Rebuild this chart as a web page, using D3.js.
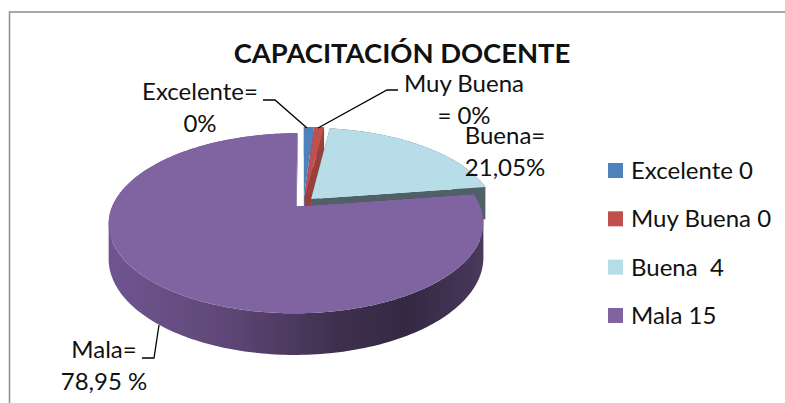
<!DOCTYPE html>
<html>
<head>
<meta charset="utf-8">
<script src="https://cdnjs.cloudflare.com/ajax/libs/d3/7.8.5/d3.min.js"></script>
<style>
  html, body { margin: 0; padding: 0; background: #fff; }
  svg { display: block; }
  text { font-family: Lato, "Open Sans", sans-serif; fill: #111; white-space: pre; }
</style>
</head>
<body>
<script>
// chart values
var categories = ["Excelente", "Muy Buena", "Buena", "Mala"];
var counts = [0, 0, 4, 15];
// the two zero slices still show as thin slivers in the picture
var drawnValues = [0.2, 0.2, 4, 15];
var topColors = ["#4f81bd", "#c0504d", "#b7dde8", "#8064a2"];
var sideColors = ["#4f81bd", "#99403d", "#4f6066", "url(#malaSide)"];
var legendLabels = ["Excelente 0", "Muy Buena 0", "Buena  4", "Mala 15"];
var title = "CAPACITACIÓN DOCENTE";

var width = 785, height = 403;

var svg = d3.select("body").append("svg")
    .attr("width", width)
    .attr("height", height);

// chart frame, right and bottom sides are cut off by the picture
svg.append("rect")
    .attr("x", 9.5).attr("y", 12)
    .attr("width", 800).attr("height", 420)
    .attr("fill", "#fff")
    .attr("stroke", "#8c8c8c")
    .attr("stroke-width", 1.5);

// side wall shading of the big slice
var grad = svg.append("defs").append("linearGradient")
    .attr("id", "malaSide")
    .attr("gradientUnits", "userSpaceOnUse")
    .attr("x1", 110).attr("x2", 485).attr("y1", 0).attr("y2", 0);
grad.selectAll("stop")
    .data([[0, "#6f5590"], [0.3, "#5f4878"], [0.6, "#40304f"], [0.8, "#332943"], [1, "#4a3a5e"]])
    .enter().append("stop")
    .attr("offset", function(d) { return d[0]; })
    .attr("stop-color", function(d) { return d[1]; });

// pie layout, keeps the order of the categories, first slice starts at 12 o'clock
var pie = d3.pie().sort(null).value(function(d) { return d; });
var slices = pie(drawnValues);

// 3D view of the disc with some perspective
var pieCenter = {x: 303.5, y: 202.5};
var scaleX = 182.5, scaleY = 85.4, persp = 0.186, depth = 33.5, explode = 0.06;

function project(u, v) {
  var w = 1 + persp * v;
  return [pieCenter.x + scaleX * u / w, pieCenter.y - scaleY * v / w];
}

// wall height shrinks towards the back of the disc
function wallDepth(p) {
  var v = (pieCenter.y - p[1]) / scaleY;
  return depth / (1 + persp * v / (1 - persp * v));
}

// outline of one slice on the disc, from its apex around the rim
function outline(s) {
  var mid = (s.startAngle + s.endAngle) / 2;
  var ox = explode * Math.sin(mid), oy = explode * Math.cos(mid);
  var angles = d3.range(s.startAngle, s.endAngle, 0.02).concat([s.endAngle]);
  var pts = angles.map(function(a) {
    return project(ox + Math.sin(a), oy + Math.cos(a));
  });
  return [project(ox, oy)].concat(pts);
}

var line = d3.line().curve(d3.curveLinearClosed);

slices.forEach(function(s, i) {
  var pts = outline(s);
  var g = svg.append("g").attr("class", "slice");
  // walls: one quad per outline segment pushed down by the depth, all in a single path
  // quads get the same winding so they don't cancel each other where they overlap
  var wallPath = pts.map(function(p, j) {
    var q = pts[(j + 1) % pts.length];
    var quad = [p, q, [q[0], q[1] + wallDepth(q)], [p[0], p[1] + wallDepth(p)]];
    if (d3.polygonArea(quad) < 0) quad.reverse();
    return line(quad);
  }).join("");
  g.append("path")
      .attr("d", wallPath)
      .attr("fill", sideColors[i])
      .attr("fill-rule", "nonzero");
  g.append("path")
      .attr("d", line(pts))
      .attr("fill", topColors[i]);
});

// title
svg.append("text")
    .attr("x", 402).attr("y", 63)
    .attr("text-anchor", "middle")
    .style("font-size", "27.4px")
    .style("font-weight", "700")
    .text(title);

// data labels with leader lines
var dataLabels = [
  {lines: ["Excelente=", "0%"], x: 200, y: 100, leader: [[263, 100], [275, 100], [307, 128]]},
  {lines: ["Muy Buena", "= 0%"], x: 464, y: 92, leader: [[398, 90], [387, 90], [318, 128]]},
  {lines: ["Buena=", "21,05%"], x: 505, y: 144, leader: null},
  {lines: ["Mala=", "78,95 %"], x: 104, y: 358, leader: [[142, 358], [154, 358], [159, 325]]}
];
dataLabels.forEach(function(d) {
  var t = svg.append("text")
      .attr("text-anchor", "middle")
      .style("font-size", "24px");
  d.lines.forEach(function(txt, i) {
    t.append("tspan")
        .attr("x", d.x)
        .attr("y", d.y + i * 32)
        .text(txt);
  });
  if (d.leader) {
    svg.append("path")
        .attr("d", d3.line()(d.leader))
        .attr("fill", "none")
        .attr("stroke", "#000")
        .attr("stroke-width", 1.3);
  }
});

// legend
var legendY = d3.scalePoint().domain(categories).range([170.5, 315.5]);
var legend = svg.selectAll("g.legend")
    .data(categories)
    .enter().append("g")
    .attr("class", "legend")
    .attr("transform", function(d) { return "translate(608," + legendY(d) + ")"; });
legend.append("rect")
    .attr("x", 0).attr("y", -7.5)
    .attr("width", 15).attr("height", 15)
    .attr("fill", function(d, i) { return topColors[i]; });
legend.append("text")
    .attr("x", 23).attr("y", 8.5)
    .style("font-size", "24px")
    .text(function(d, i) { return legendLabels[i]; });
</script>
</body>
</html>
